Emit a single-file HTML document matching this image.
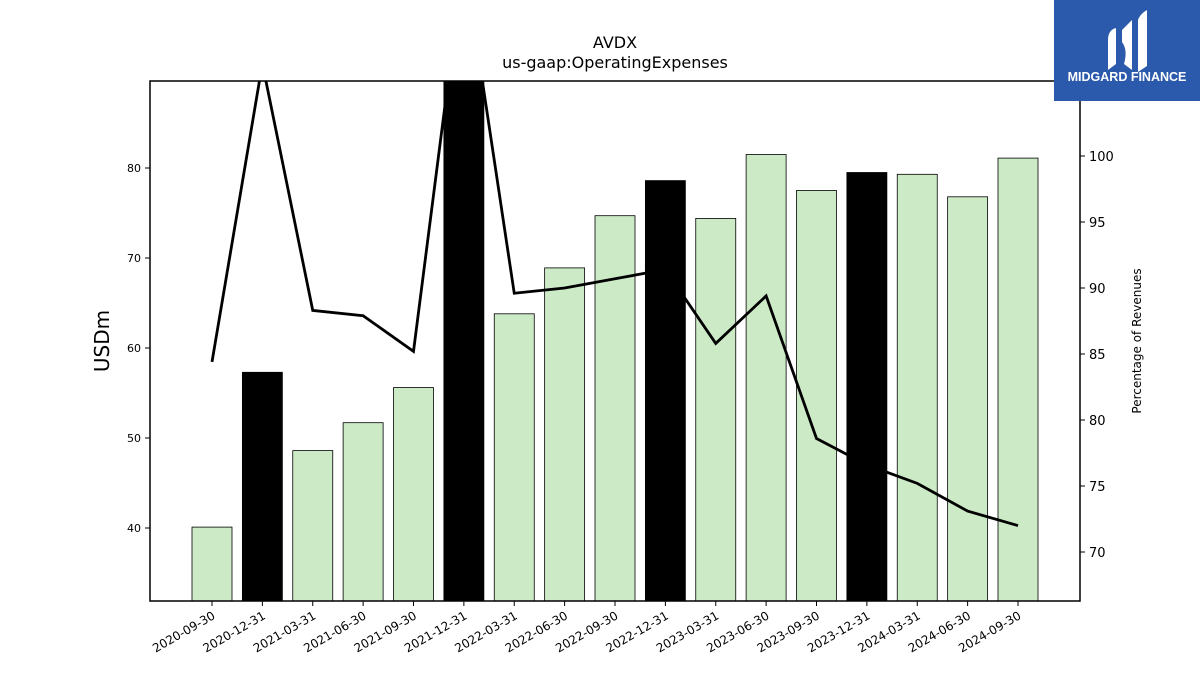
<!DOCTYPE html>
<html><head><meta charset="utf-8"><style>
body{margin:0;background:#fff;width:1200px;height:675px;overflow:hidden;font-family:"Liberation Sans","DejaVu Sans",sans-serif}
</style></head><body>
<svg id="chart" width="1200" height="675" xmlns="http://www.w3.org/2000/svg" font-family="DejaVu Sans, Liberation Sans, sans-serif">
<text x="615" y="48" text-anchor="middle" font-size="16">AVDX</text>
<text x="615" y="68" text-anchor="middle" font-size="16">us-gaap:OperatingExpenses</text>
<defs><clipPath id="pc"><rect x="150" y="81" width="930" height="520"/></clipPath></defs>
<g id="bars" clip-path="url(#pc)"></g>
<g id="line" clip-path="url(#pc)"></g>
<rect x="150" y="81" width="930" height="520" fill="none" stroke="#000" stroke-width="1.5"/>
<g id="axes"></g>
<text transform="translate(109,341) rotate(-90)" text-anchor="middle" font-size="20">USDm</text>
<text transform="translate(1141,341) rotate(-90)" text-anchor="middle" font-size="12">Percentage of Revenues</text>
<g>
<rect x="1054" y="0" width="146" height="101" fill="#2b5aac"/>
<path d="M1108 40 Q1108 30 1116 28 L1116 64 L1108 70 Z" fill="#fff"/>
<path d="M1122 30 L1132 20 L1132 70 L1124 64 Q1128 50 1122 42 Z" fill="#fff"/>
<path d="M1138 20 Q1140 14 1147 10 L1147 66 L1138 72 Z" fill="#fff"/>
<text x="1127" y="81" text-anchor="middle" font-size="12.5" font-weight="bold" fill="#fff" font-family="Liberation Sans, sans-serif">MIDGARD FINANCE</text>
</g>
</svg>
<script>
const categories=["2020-09-30","2020-12-31","2021-03-31","2021-06-30","2021-09-30","2021-12-31","2022-03-31","2022-06-30","2022-09-30","2022-12-31","2023-03-31","2023-06-30","2023-09-30","2023-12-31","2024-03-31","2024-06-30","2024-09-30"];
const opex=[40.1,57.3,48.6,51.7,55.6,95,63.8,68.9,74.7,78.6,74.4,81.5,77.5,79.5,79.3,76.8,81.1];
const pctRevenue=[84.4,107,88.3,87.9,85.2,115,89.6,90.0,90.7,91.4,85.8,89.4,78.6,76.6,75.2,73.1,72.0];
const leftTicks=[40,50,60,70,80];
const rightTicks=[70,75,80,85,90,95,100];
const NS="http://www.w3.org/2000/svg";
const x=i=>212+i*50.375;
const yL=v=>168+(80-v)*9;
const yR=v=>156+(100-v)*13.2;
function mk(t,a,p){const e=document.createElementNS(NS,t);for(const k in a)e.setAttribute(k,a[k]);p.appendChild(e);return e;}
const bars=document.getElementById('bars'),line=document.getElementById('line'),axes=document.getElementById('axes');
categories.forEach((c,i)=>{
 const q4=c.endsWith('12-31');
 const r=mk('rect',{x:x(i)-20,y:yL(opex[i]),width:40,height:601-yL(opex[i]),fill:q4?'#000':'#cdeac7',stroke:'#000','stroke-width':0.8},bars);
 
 
 const t=mk('line',{x1:x(i),x2:x(i),y1:601,y2:606,stroke:'#000'},axes);
 
 
 const l=mk('text',{transform:`translate(${x(i)+4},${618}) rotate(-30)`,'text-anchor':'end','font-size':12},axes);
 l.textContent=c;
 
 
});
const p=mk('polyline',{points:pctRevenue.map((v,i)=>x(i)+','+yR(v)).join(' '),fill:'none',stroke:'#000','stroke-width':2.8},line);


leftTicks.forEach(v=>{
 const t=mk('line',{x1:145,x2:150,y1:yL(v),y2:yL(v),stroke:'#000'},axes);
 
 
 const l=mk('text',{x:141,y:yL(v)+4,'text-anchor':'end','font-size':11},axes);
 l.textContent=v;
 
 
});
rightTicks.forEach(v=>{
 const t=mk('line',{x1:1080,x2:1085,y1:yR(v),y2:yR(v),stroke:'#000'},axes);
 
 
 const l=mk('text',{x:1089,y:yR(v)+5,'font-size':13},axes);
 l.textContent=v;
 
 
});
</script>
</body></html>
